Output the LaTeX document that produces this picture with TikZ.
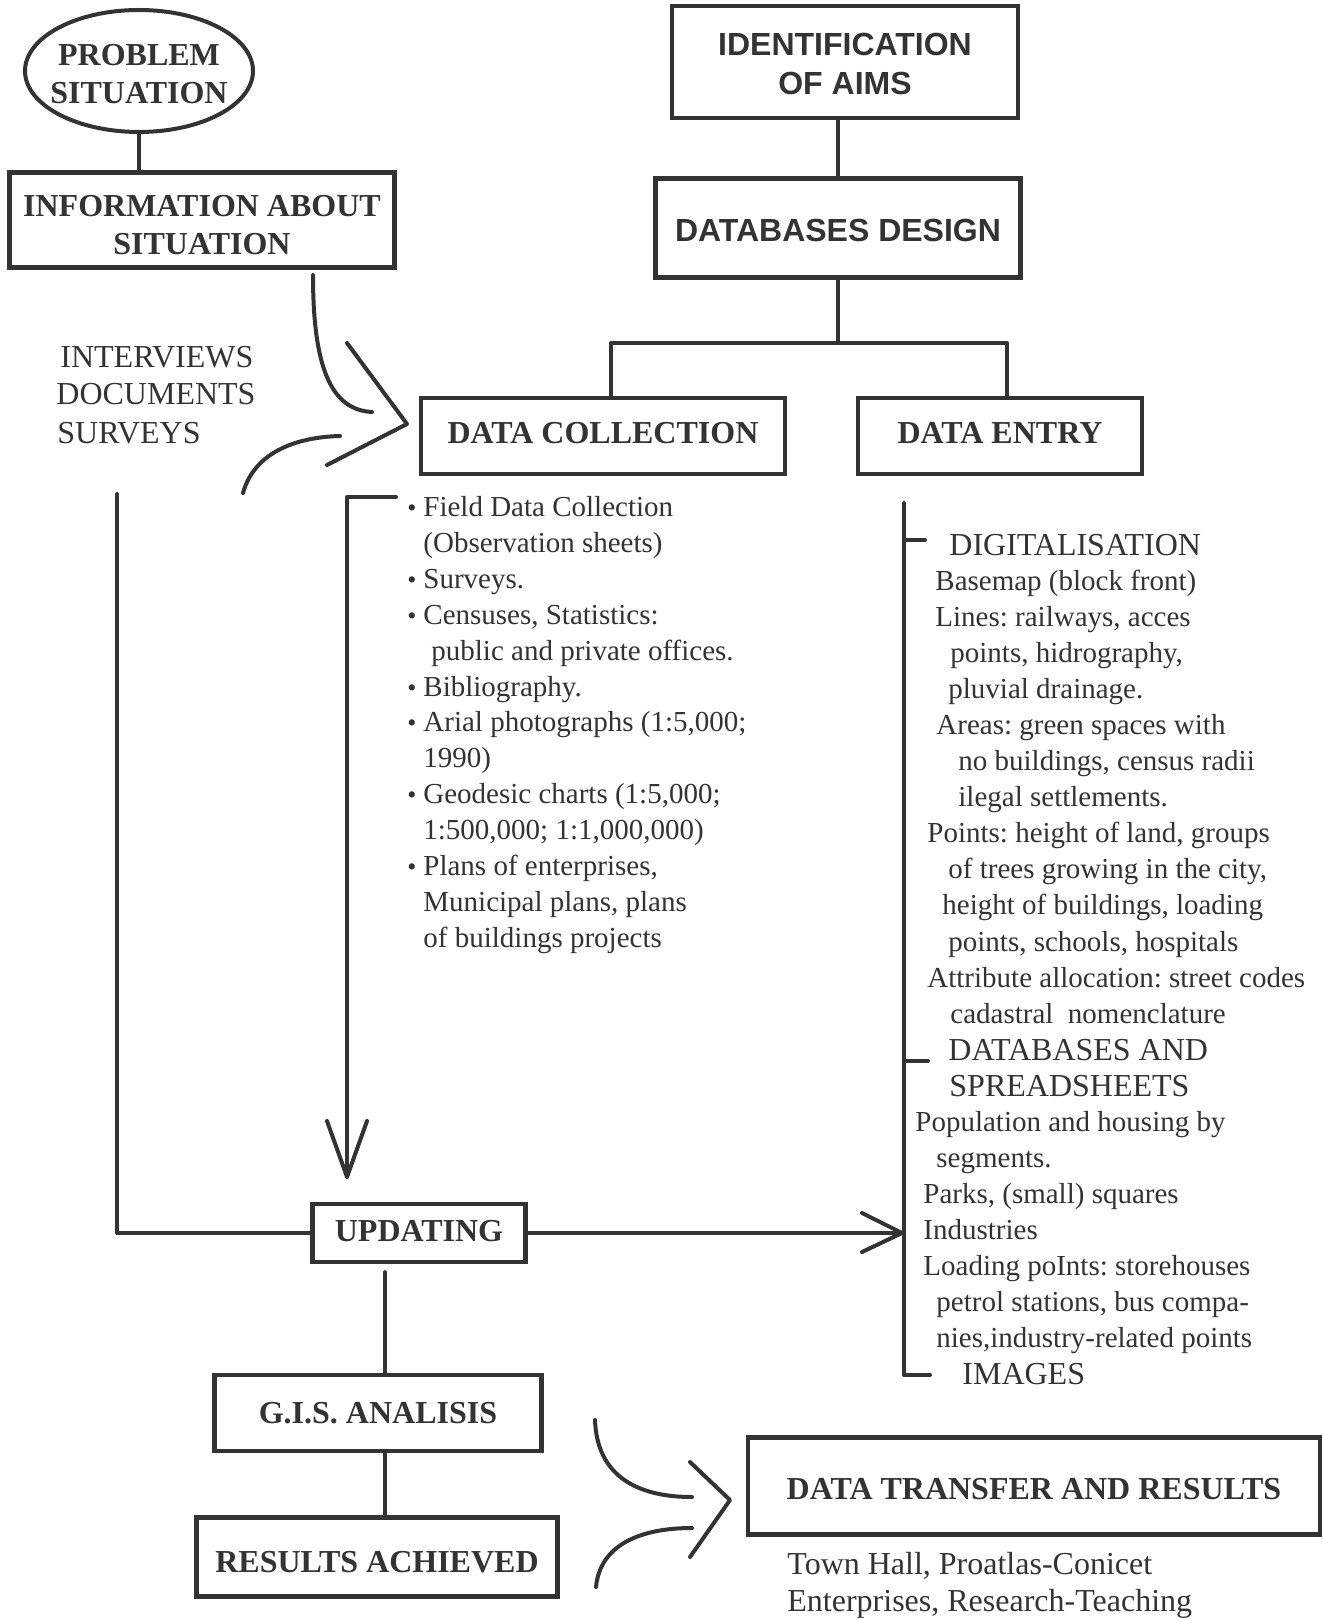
\documentclass[tikz,border=0pt]{standalone}
\usepackage{fontspec}
\setmainfont{Liberation Serif}
\newfontfamily\arialfam{Liberation Sans}
\usepackage{xcolor}
\usepackage{tikz}
\usetikzlibrary{shapes.geometric}

\definecolor{ink}{HTML}{333333}
\frenchspacing

\newcommand{\bul}{\makebox[8pt][l]{\fontsize{13}{13}\selectfont\textbullet}}
\newcommand{\uprule}[1]{\rule{0pt}{#1}}

\tikzset{
    pen/.style={line width=2pt, line cap=round, line join=round},
    boxnode/.style={draw, line width=2.2pt, inner sep=0pt, align=center,
        font=\fontsize{16}{19}\selectfont\bfseries},
    sansbox/.style={boxnode, font=\arialfam\bfseries\fontsize{16}{19.5}\selectfont},
    labeltext/.style={anchor=west, inner sep=0pt, text height=14.5pt, text depth=3pt,
        font=\fontsize{16}{19}\selectfont},
    listline/.style={anchor=west, inner sep=0pt, text height=13pt, text depth=3pt,
        font=\fontsize{14.5}{17.9}\selectfont},
}

\begin{document}
\begin{tikzpicture}[x=0.5pt, y=-0.5pt, color=ink]
        \fill[white] (0,0) rectangle (1322,1620);
        \useasboundingbox (0,0) rectangle (1322,1620);

        \node[boxnode, ellipse, line width=2pt, inner xsep=-20pt, inner ysep=-10pt,
            minimum width=114pt, minimum height=61pt] (problem) at (139,71) {\uprule{13.6pt}PROBLEM\\SITUATION};
        \node[boxnode, minimum width=192.5pt, minimum height=47.5pt] (info) at (202,220) {\uprule{16pt}INFORMATION ABOUT\\SITUATION};
        \node[sansbox, minimum width=173pt, minimum height=56pt] (aims) at (845,62) {\uprule{13pt}IDENTIFICATION\\OF AIMS};
        \node[sansbox, minimum width=182.5pt, minimum height=49.5pt] (design) at (838,228) {\uprule{13.5pt}DATABASES DESIGN};
        \node[boxnode, minimum width=182pt, minimum height=38pt] (collection) at (603,436) {\rule[-3pt]{0pt}{0pt}DATA COLLECTION};
        \node[boxnode, minimum width=142pt, minimum height=38pt] (entry) at (1000,436) {\rule[-3pt]{0pt}{0pt}DATA ENTRY};
        \node[boxnode, minimum width=106.5pt, minimum height=29pt] (updating) at (419,1233) {\rule[-2pt]{0pt}{0pt}UPDATING};
        \node[boxnode, minimum width=163.5pt, minimum height=38pt] (gis) at (378,1413) {G.I.S. ANALISIS};
        \node[boxnode, minimum width=180.5pt, minimum height=39.5pt] (achieved) at (377,1557) {\uprule{15.6pt}RESULTS ACHIEVED};
        \node[boxnode, minimum width=286pt, minimum height=48.5pt] (transfer) at (1034,1486) {\uprule{13.6pt}DATA TRANSFER AND RESULTS};

        \node[labeltext] (interviews) at (60,356) {INTERVIEWS};
        \node[labeltext] (documents) at (56,393) {DOCUMENTS};
        \node[labeltext] (surveys) at (57,432) {SURVEYS};
        \node[labeltext] (townhall) at (787,1563) {Town Hall, Proatlas-Conicet};
        \node[labeltext] (teaching) at (787,1600) {Enterprises, Research-Teaching};

        \node[listline] (l1) at (407,506) {\bul Field Data Collection};
        \node[listline] (l2) at (423,542) {(Observation sheets)};
        \node[listline] (l3) at (407,578) {\bul Surveys.};
        \node[listline] (l4) at (407,614) {\bul Censuses, Statistics:};
        \node[listline] (l5) at (431,650) {public and private offices.};
        \node[listline] (l6) at (407,686) {\bul Bibliography.};
        \node[listline] (l7) at (407,721) {\bul Arial photographs (1:5,000;};
        \node[listline] (l8) at (423,757) {1990)};
        \node[listline] (l9) at (407,793) {\bul Geodesic charts (1:5,000;};
        \node[listline] (l10) at (423,829) {1:500,000; 1:1,000,000)};
        \node[listline] (l11) at (407,865) {\bul Plans of enterprises,};
        \node[listline] (l12) at (423,901) {Municipal plans, plans};
        \node[listline] (l13) at (423,937) {of buildings projects};

        \node[labeltext] (r1) at (949,544) {DIGITALISATION};
        \node[listline] (r2) at (935,580) {Basemap (block front)};
        \node[listline] (r3) at (935,616) {Lines: railways, acces};
        \node[listline] (r4) at (950,652) {points, hidrography,};
        \node[listline] (r5) at (948,688) {pluvial drainage.};
        \node[listline] (r6) at (936,724) {Areas: green spaces with};
        \node[listline] (r7) at (958,760) {no buildings, census radii};
        \node[listline] (r8) at (958,796) {ilegal settlements.};
        \node[listline] (r9) at (927,832) {Points: height of land, groups};
        \node[listline] (r10) at (948,868) {of trees growing in the city,};
        \node[listline] (r11) at (942,904) {height of buildings, loading};
        \node[listline] (r12) at (948,941) {points, schools, hospitals};
        \node[listline] (r13) at (927,977) {Attribute allocation: street codes};
        \node[listline] (r14) at (950,1013) {cadastral\ \ nomenclature};
        \node[labeltext] (r15) at (948,1049) {DATABASES AND};
        \node[labeltext] (r16) at (949,1085) {SPREADSHEETS};
        \node[listline] (r17) at (915,1121) {Population and housing by};
        \node[listline] (r18) at (936,1157) {segments.};
        \node[listline] (r19) at (923,1193) {Parks, (small) squares};
        \node[listline] (r20) at (923,1229) {Industries};
        \node[listline] (r21) at (923,1265) {Loading poInts: storehouses};
        \node[listline] (r22) at (936,1301) {petrol stations, bus compa-};
        \node[listline] (r23) at (936,1337) {nies,industry-related points};
        \node[labeltext] (r24) at (962,1373) {IMAGES};

        \draw[pen] (problem.south) -- (problem.south |- info.north);
        \draw[pen] (design.north |- aims.south) -- (design.north);
        \coordinate (split) at (838,343);
        \coordinate (splitleft) at (611,343);
        \coordinate (splitright) at (1007,343);
        \draw[pen] (design.south) -- (split);
        \draw[pen] (splitleft |- collection.north) -- (splitleft) -- (splitright) -- (splitright |- entry.north);

        \draw[pen] (313,275) .. controls (313,365) and (330,410) .. (372,412);
        \draw[pen] (243,493) .. controls (255,450) and (300,437) .. (340,436);
        \draw[pen] (347,343) -- (407,424) -- (327,465);

        \coordinate (listtick) at (396,497);
        \coordinate (listtop) at (347,497);
        \coordinate (listend) at (347,1177);
        \draw[pen] (listtick) -- (listtop) -- (listend);
        \draw[pen] (327,1121) -- (listend) -- (367,1121);

        \coordinate (loopstart) at (117,494);
        \draw[pen] (loopstart) |- (updating.west);

        \coordinate (updtip) at (902,1233);
        \draw[pen] (updating.east) -- (updtip);
        \draw[pen] (862,1213) -- (updtip) -- (862,1252);

        \coordinate (bracktop) at (904,503);
        \coordinate (brackbot) at (904,1375);
        \draw[pen] (bracktop) -- (brackbot) -- (930,1375);
        \draw[pen] (904,540) -- (925,540);
        \draw[pen] (904,1061) -- (928,1061);

        \draw[pen] ([xshift=3.5pt,yshift=-4pt]gis.north |- updating.south) -- ([xshift=3.5pt]gis.north);
        \draw[pen] ([xshift=3.5pt]gis.south) -- ([xshift=3.5pt]gis.south |- achieved.north);

        \draw[pen] (595,1420) .. controls (597,1478) and (640,1497) .. (692,1497);
        \draw[pen] (596,1587) .. controls (600,1545) and (640,1528) .. (692,1528);
        \draw[pen] (690,1462) -- (730,1500) -- (690,1557);
    \end{tikzpicture}
\end{document}
